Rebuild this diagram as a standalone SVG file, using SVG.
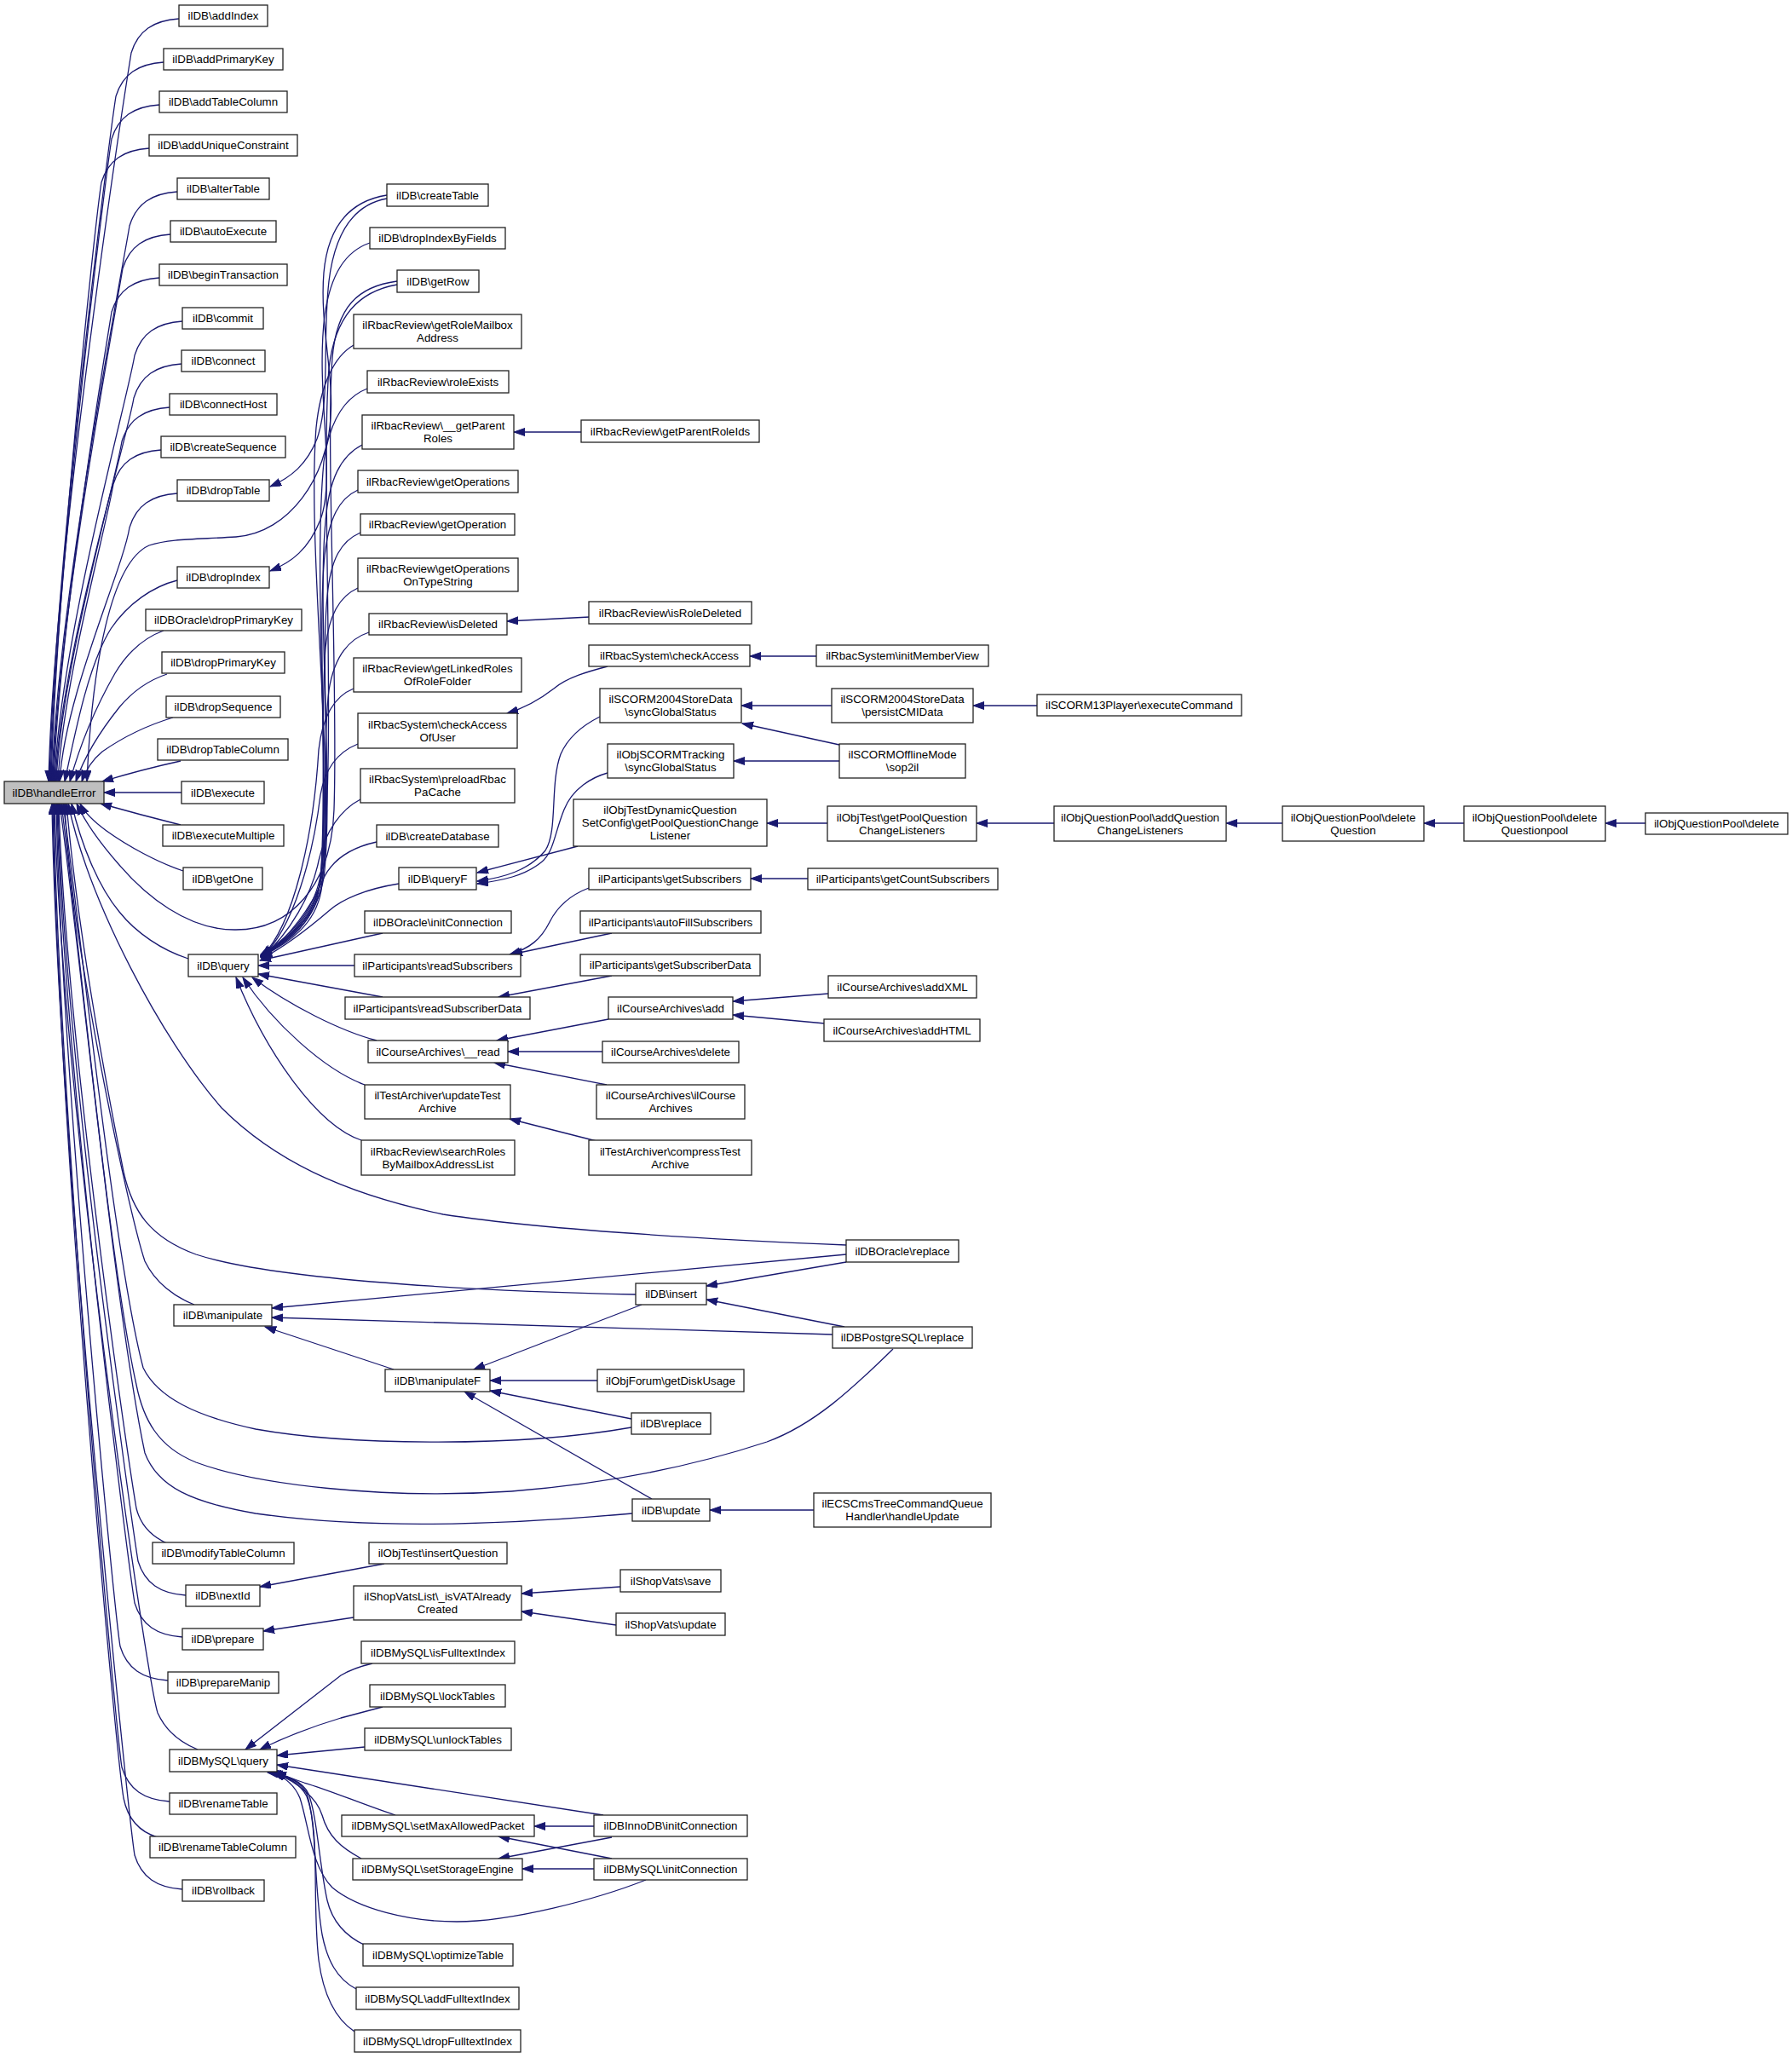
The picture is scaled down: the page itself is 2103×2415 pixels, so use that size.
<svg xmlns="http://www.w3.org/2000/svg" width="2103" height="2415" viewBox="0 0 2103 2415">
<defs>
<style>
.n rect{fill:#fff;stroke:#222;stroke-width:1.3}
.n.h rect{fill:#bfbfbf}
.n text{font-family:"Liberation Sans",Arial,Helvetica,sans-serif;font-size:13.33px;text-anchor:middle;fill:#000}
.e path{fill:none;stroke:#191970;stroke-width:1.3;marker-end:url(#ah)}
</style>
<marker id="ah" markerWidth="14" markerHeight="10" refX="13" refY="4.5" orient="auto" markerUnits="userSpaceOnUse"><path d="M0,0 L13,4.5 L0,9 z" fill="#191970" stroke="#191970" stroke-width="1"/></marker>
</defs>
<rect width="2103" height="2415" fill="#fff"/>
<g id="connectors" class="e">
<path d="M210,22 C180,24 162,36 154,62 C146,112 63,648 57,917"/>
<path d="M192,73 C162,75 144,87 136,113 C128,163 64,664 58,917"/>
<path d="M187,123 C157,125 139,137 131,163 C123,213 65,679 59,917"/>
<path d="M175,174 C145,176 127,188 119,214 C111,264 66,694 60,917"/>
<path d="M208,225 C178,227 160,239 152,265 C144,315 67,709 61,917"/>
<path d="M200,275 C170,277 152,289 144,315 C136,365 68,724 62,917"/>
<path d="M187,326 C157,328 139,340 131,366 C123,416 69,740 63,917"/>
<path d="M214,377 C184,379 166,391 158,417 C150,467 70,755 64,917"/>
<path d="M213,427 C183,429 165,441 157,467 C149,517 71,770 65,917"/>
<path d="M199,478 C169,480 151,492 143,518 C135,568 72,785 66,917"/>
<path d="M189,528 C159,530 141,542 133,568 C125,618 74,800 68,917"/>
<path d="M208,579 C178,581 160,593 152,619 C144,669 76,816 70,917"/>
<path d="M208,681 C180,688 150,708 130,738 C105,778 90,850 76,917"/>
<path d="M192,740 C170,748 150,765 135,790 C115,825 95,870 82,917"/>
<path d="M196,791 C175,798 155,812 140,830 C120,855 100,885 89,917"/>
<path d="M203,842 C170,852 140,868 120,882 C108,892 100,905 96,917"/>
<path d="M212,893 C180,900 150,908 120,917"/>
<path d="M213,930 L122,930"/>
<path d="M212,968 C180,960 150,952 118,943"/>
<path d="M215,1022 C185,1012 150,993 125,975 C110,964 100,955 94,943"/>
<path d="M221,1125 C190,1115 160,1095 140,1070 C115,1040 95,990 84,943"/>
<path d="M993,1461 C850,1455 650,1445 520,1425 C400,1400 320,1360 260,1300 C190,1220 105,1060 80,943"/>
<path d="M746,1519 C600,1516 330,1505 230,1472 C175,1452 155,1420 145,1375 C120,1250 90,1080 78,943"/>
<path d="M228,1531 C205,1522 182,1505 170,1480 C150,1420 82,1100 76,943"/>
<path d="M741,1675 C600,1700 400,1695 300,1677 C230,1662 185,1640 168,1605 C135,1480 95,1100 74,943"/>
<path d="M1048,1583 C1000,1630 955,1672 900,1692 C800,1725 700,1742 600,1750 C450,1760 300,1742 230,1716 C185,1698 168,1665 160,1625 C128,1480 92,1100 72,943"/>
<path d="M742,1776 C560,1792 420,1793 300,1776 C225,1763 185,1745 170,1705 C135,1540 92,1100 70,943"/>
<path d="M196,1811 C178,1803 165,1790 160,1770 C148,1700 76,1200 69,943"/>
<path d="M218,1872 C188,1870 170,1858 162,1832 C154,1782 74,1222 68,943"/>
<path d="M214,1921 C184,1919 166,1907 158,1881 C150,1831 73,1236 67,943"/>
<path d="M197,1972 C167,1970 149,1958 141,1932 C133,1882 72,1252 66,943"/>
<path d="M232,2053 C212,2045 195,2032 185,2010 C170,1960 72,1280 64,943"/>
<path d="M199,2114 C169,2112 151,2100 143,2074 C135,2024 69,1294 63,943"/>
<path d="M185,2156 C165,2150 150,2135 145,2110 C135,2050 68,1310 62,943"/>
<path d="M214,2217 C184,2215 166,2203 158,2177 C150,2127 67,1325 61,943"/>
<path d="M454,229 C410,236 385,265 380,320 C375,380 392,440 388,490 C384,560 340,625 277,630 C230,633 200,632 175,640 C130,660 108,780 102,917"/>
<path d="M466,330 C420,336 395,360 390,420 C382,520 397,800 392,950 C389,1040 340,1091 277,1091 C220,1092 170,1050 140,1015 C118,990 100,965 90,943"/>
<path d="M454,233 C415,240 393,272 386,330 C378,400 388,470 372,515 C360,545 342,560 317,571"/>
<path d="M434,285 C405,295 388,322 381,370 C370,460 395,560 376,610 C362,645 342,660 317,670"/>
<path d="M466,334 C420,342 393,372 386,432 C376,560 396,900 377,1022 C370,1070 340,1100 306,1120"/>
<path d="M415,405 C392,418 376,452 371,502 C360,640 393,920 379,1022 C371,1070 341,1101 306,1121"/>
<path d="M431,456 C405,466 387,492 380,542 C367,680 388,930 377,1030 C370,1075 340,1102 306,1121"/>
<path d="M425,522 C400,535 386,562 382,612 C372,720 392,930 380,1030 C372,1075 341,1102 306,1122"/>
<path d="M420,575 C398,585 386,608 381,652 C372,740 386,940 376,1032 C370,1078 340,1103 306,1122"/>
<path d="M423,625 C400,635 388,656 384,700 C376,780 390,950 378,1035 C371,1080 340,1104 306,1122"/>
<path d="M420,690 C398,700 386,722 382,760 C376,830 383,970 375,1040 C369,1082 340,1105 306,1123"/>
<path d="M433,742 C408,750 392,772 386,810 C378,870 385,990 377,1045 C370,1085 340,1106 306,1123"/>
<path d="M415,808 C390,818 378,843 374,880 C368,980 345,1085 307,1123"/>
<path d="M420,873 C395,883 381,903 376,933 C368,1000 345,1090 307,1123"/>
<path d="M423,938 C400,950 382,975 374,1010 C366,1050 340,1095 307,1124"/>
<path d="M442,988 C410,995 390,1010 380,1030 C365,1065 340,1100 307,1124"/>
<path d="M468,1037 C430,1043 402,1055 387,1068 C366,1086 336,1110 307,1125"/>
<path d="M449,1095 L305,1127"/>
<path d="M416,1133 L303,1133"/>
<path d="M449,1170 L303,1143"/>
<path d="M442,1221 C400,1210 340,1180 296,1147"/>
<path d="M428,1273 C380,1255 320,1200 285,1147"/>
<path d="M424,1338 C370,1320 310,1230 277,1147"/>
<path d="M682,507 L603,507"/>
<path d="M692,724 L595,729"/>
<path d="M713,782 C690,788 665,795 650,808 C632,822 612,832 595,837"/>
<path d="M958,770 L880,770"/>
<path d="M704,841 C690,848 668,862 658,885 C645,920 655,975 640,998 C620,1022 590,1030 560,1034"/>
<path d="M713,907 C695,912 672,925 662,950 C650,980 650,1000 635,1012 C615,1028 590,1033 560,1037"/>
<path d="M678,993 L560,1024"/>
<path d="M976,828 L870,828"/>
<path d="M985,874 L871,849"/>
<path d="M985,893 L861,893"/>
<path d="M1217,828 L1142,828"/>
<path d="M971,966 L900,966"/>
<path d="M1237,966 L1146,966"/>
<path d="M1505,966 L1439,966"/>
<path d="M1718,966 L1671,966"/>
<path d="M1931,966 L1884,966"/>
<path d="M691,1042 C670,1050 655,1062 645,1082 C635,1102 622,1113 598,1120"/>
<path d="M718,1095 L600,1120"/>
<path d="M948,1031 L881,1031"/>
<path d="M718,1145 L585,1170"/>
<path d="M714,1196 L583,1221"/>
<path d="M707,1234 L596,1234"/>
<path d="M712,1273 L580,1247"/>
<path d="M972,1166 L860,1175"/>
<path d="M968,1201 L860,1191"/>
<path d="M700,1339 L598,1313"/>
<path d="M993,1472 L319,1535"/>
<path d="M977,1566 L319,1546"/>
<path d="M462,1607 L311,1557"/>
<path d="M753,1531 L556,1607"/>
<path d="M993,1481 L829,1509"/>
<path d="M991,1557 L829,1525"/>
<path d="M701,1620 L575,1620"/>
<path d="M741,1665 L575,1632"/>
<path d="M765,1759 L545,1633"/>
<path d="M955,1772 L833,1772"/>
<path d="M451,1835 L305,1862"/>
<path d="M415,1898 L309,1914"/>
<path d="M728,1862 L612,1870"/>
<path d="M723,1907 L612,1891"/>
<path d="M437,1952 C420,1956 410,1960 400,1966 L288,2053"/>
<path d="M449,2003 C430,2008 415,2012 400,2016 C370,2025 335,2038 305,2053"/>
<path d="M428,2050 L325,2060"/>
<path d="M708,2130 L325,2071"/>
<path d="M464,2130 C425,2117 385,2100 357,2092 C345,2088 335,2084 323,2079"/>
<path d="M424,2181 C400,2168 385,2155 378,2130 C372,2110 350,2092 322,2080"/>
<path d="M758,2206 C700,2229 600,2255 536,2255 C480,2255 420,2240 390,2215 C365,2190 362,2140 352,2110 C345,2093 333,2085 320,2080"/>
<path d="M429,2283 C405,2272 390,2255 384,2230 C375,2190 372,2130 362,2105 C355,2090 338,2084 318,2080"/>
<path d="M418,2334 C395,2322 384,2300 378,2270 C368,2210 372,2140 360,2105 C353,2090 336,2083 316,2080"/>
<path d="M416,2384 C395,2370 380,2345 374,2300 C366,2230 376,2150 360,2108 C352,2092 335,2083 314,2080"/>
<path d="M697,2143 L627,2143"/>
<path d="M718,2181 L585,2155"/>
<path d="M718,2156 L585,2181"/>
<path d="M697,2193 L613,2193"/>
</g>
<g id="n_handleError" class="n h"><rect x="5" y="917" width="117" height="26"/><text x="63.5" y="934.5">ilDB\handleError</text></g>
<g id="n_addIndex" class="n"><rect x="210" y="6" width="104" height="25"/><text x="262" y="23">ilDB\addIndex</text></g>
<g id="n_addPrimaryKey" class="n"><rect x="192" y="57" width="140" height="25"/><text x="262" y="74">ilDB\addPrimaryKey</text></g>
<g id="n_addTableColumn" class="n"><rect x="187" y="107" width="150" height="25"/><text x="262" y="124">ilDB\addTableColumn</text></g>
<g id="n_addUniqueConstraint" class="n"><rect x="175" y="158" width="174" height="25"/><text x="262" y="175">ilDB\addUniqueConstraint</text></g>
<g id="n_alterTable" class="n"><rect x="208" y="209" width="108" height="25"/><text x="262" y="226">ilDB\alterTable</text></g>
<g id="n_autoExecute" class="n"><rect x="200" y="259" width="124" height="25"/><text x="262" y="276">ilDB\autoExecute</text></g>
<g id="n_beginTransaction" class="n"><rect x="187" y="310" width="150" height="25"/><text x="262" y="327">ilDB\beginTransaction</text></g>
<g id="n_commit" class="n"><rect x="214" y="361" width="95" height="25"/><text x="261.5" y="378">ilDB\commit</text></g>
<g id="n_connect" class="n"><rect x="213" y="411" width="98" height="25"/><text x="262" y="428">ilDB\connect</text></g>
<g id="n_connectHost" class="n"><rect x="199" y="462" width="126" height="25"/><text x="262" y="479">ilDB\connectHost</text></g>
<g id="n_createSequence" class="n"><rect x="189" y="512" width="146" height="25"/><text x="262" y="529">ilDB\createSequence</text></g>
<g id="n_dropTable" class="n"><rect x="208" y="563" width="108" height="25"/><text x="262" y="580">ilDB\dropTable</text></g>
<g id="n_dropIndex" class="n"><rect x="208" y="665" width="108" height="25"/><text x="262" y="682">ilDB\dropIndex</text></g>
<g id="n_oraDropPrimaryKey" class="n"><rect x="171" y="715" width="183" height="25"/><text x="262.5" y="732">ilDBOracle\dropPrimaryKey</text></g>
<g id="n_dropPrimaryKey" class="n"><rect x="190" y="765" width="144" height="25"/><text x="262" y="782">ilDB\dropPrimaryKey</text></g>
<g id="n_dropSequence" class="n"><rect x="195" y="817" width="134" height="25"/><text x="262" y="834">ilDB\dropSequence</text></g>
<g id="n_dropTableColumn" class="n"><rect x="185" y="867" width="153" height="25"/><text x="261.5" y="884">ilDB\dropTableColumn</text></g>
<g id="n_execute" class="n"><rect x="213" y="917" width="97" height="26"/><text x="261.5" y="934.5">ilDB\execute</text></g>
<g id="n_executeMultiple" class="n"><rect x="191" y="968" width="142" height="25"/><text x="262" y="985">ilDB\executeMultiple</text></g>
<g id="n_getOne" class="n"><rect x="215" y="1018" width="93" height="26"/><text x="261.5" y="1035.5">ilDB\getOne</text></g>
<g id="n_query" class="n"><rect x="221" y="1120" width="82" height="26"/><text x="262" y="1137.5">ilDB\query</text></g>
<g id="n_manipulate" class="n"><rect x="204" y="1531" width="115" height="25"/><text x="261.5" y="1548">ilDB\manipulate</text></g>
<g id="n_modifyTableColumn" class="n"><rect x="179" y="1810" width="166" height="25"/><text x="262" y="1827">ilDB\modifyTableColumn</text></g>
<g id="n_nextId" class="n"><rect x="218" y="1860" width="87" height="25"/><text x="261.5" y="1877">ilDB\nextId</text></g>
<g id="n_prepare" class="n"><rect x="214" y="1911" width="95" height="25"/><text x="261.5" y="1928">ilDB\prepare</text></g>
<g id="n_prepareManip" class="n"><rect x="197" y="1962" width="130" height="25"/><text x="262" y="1979">ilDB\prepareManip</text></g>
<g id="n_mysqlQuery" class="n"><rect x="199" y="2053" width="126" height="26"/><text x="262" y="2070.5">ilDBMySQL\query</text></g>
<g id="n_renameTable" class="n"><rect x="199" y="2104" width="126" height="25"/><text x="262" y="2121">ilDB\renameTable</text></g>
<g id="n_renameTableColumn" class="n"><rect x="176" y="2155" width="171" height="25"/><text x="261.5" y="2172">ilDB\renameTableColumn</text></g>
<g id="n_rollback" class="n"><rect x="214" y="2206" width="96" height="25"/><text x="262" y="2223">ilDB\rollback</text></g>
<g id="n_createTable" class="n"><rect x="454" y="216" width="119" height="26"/><text x="513.5" y="233.5">ilDB\createTable</text></g>
<g id="n_dropIndexByFields" class="n"><rect x="434" y="267" width="159" height="25"/><text x="513.5" y="284">ilDB\dropIndexByFields</text></g>
<g id="n_getRow" class="n"><rect x="466" y="317" width="96" height="26"/><text x="514" y="334.5">ilDB\getRow</text></g>
<g id="n_getRoleMailboxAddress" class="n"><rect x="415" y="369" width="197" height="40"/><text x="513.5" y="386">ilRbacReview\getRoleMailbox<tspan x="513.5" y="401">Address</tspan></text></g>
<g id="n_roleExists" class="n"><rect x="431" y="435" width="166" height="26"/><text x="514" y="452.5">ilRbacReview\roleExists</text></g>
<g id="n_getParentRoles" class="n"><rect x="425" y="487" width="178" height="40"/><text x="514" y="504">ilRbacReview\__getParent<tspan x="514" y="519">Roles</tspan></text></g>
<g id="n_getOperations" class="n"><rect x="420" y="552" width="188" height="26"/><text x="514" y="569.5">ilRbacReview\getOperations</text></g>
<g id="n_getOperation" class="n"><rect x="423" y="603" width="181" height="25"/><text x="513.5" y="620">ilRbacReview\getOperation</text></g>
<g id="n_getOperationsOnTypeString" class="n"><rect x="420" y="655" width="188" height="39"/><text x="514" y="671.5">ilRbacReview\getOperations<tspan x="514" y="686.5">OnTypeString</tspan></text></g>
<g id="n_isDeleted" class="n"><rect x="433" y="720" width="162" height="25"/><text x="514" y="737">ilRbacReview\isDeleted</text></g>
<g id="n_getLinkedRolesOfRoleFolder" class="n"><rect x="415" y="772" width="197" height="40"/><text x="513.5" y="789">ilRbacReview\getLinkedRoles<tspan x="513.5" y="804">OfRoleFolder</tspan></text></g>
<g id="n_checkAccessOfUser" class="n"><rect x="420" y="837" width="187" height="41"/><text x="513.5" y="854.5">ilRbacSystem\checkAccess<tspan x="513.5" y="869.5">OfUser</tspan></text></g>
<g id="n_preloadRbacPaCache" class="n"><rect x="423" y="902" width="181" height="40"/><text x="513.5" y="919">ilRbacSystem\preloadRbac<tspan x="513.5" y="934">PaCache</tspan></text></g>
<g id="n_createDatabase" class="n"><rect x="442" y="968" width="143" height="26"/><text x="513.5" y="985.5">ilDB\createDatabase</text></g>
<g id="n_queryF" class="n"><rect x="468" y="1018" width="91" height="26"/><text x="513.5" y="1035.5">ilDB\queryF</text></g>
<g id="n_oraInitConnection" class="n"><rect x="428" y="1069" width="172" height="26"/><text x="514" y="1086.5">ilDBOracle\initConnection</text></g>
<g id="n_readSubscribers" class="n"><rect x="416" y="1120" width="195" height="26"/><text x="513.5" y="1137.5">ilParticipants\readSubscribers</text></g>
<g id="n_readSubscriberData" class="n"><rect x="405" y="1170" width="217" height="26"/><text x="513.5" y="1187.5">ilParticipants\readSubscriberData</text></g>
<g id="n_caRead" class="n"><rect x="432" y="1221" width="164" height="26"/><text x="514" y="1238.5">ilCourseArchives\__read</text></g>
<g id="n_updateTestArchive" class="n"><rect x="428" y="1273" width="171" height="40"/><text x="513.5" y="1290">ilTestArchiver\updateTest<tspan x="513.5" y="1305">Archive</tspan></text></g>
<g id="n_searchRoles" class="n"><rect x="424" y="1338" width="180" height="41"/><text x="514" y="1355.5">ilRbacReview\searchRoles<tspan x="514" y="1370.5">ByMailboxAddressList</tspan></text></g>
<g id="n_manipulateF" class="n"><rect x="452" y="1607" width="123" height="26"/><text x="513.5" y="1624.5">ilDB\manipulateF</text></g>
<g id="n_insertQuestion" class="n"><rect x="433" y="1810" width="162" height="25"/><text x="514" y="1827">ilObjTest\insertQuestion</text></g>
<g id="n_isVATAlreadyCreated" class="n"><rect x="415" y="1861" width="197" height="40"/><text x="513.5" y="1878">ilShopVatsList\_isVATAlready<tspan x="513.5" y="1893">Created</tspan></text></g>
<g id="n_isFulltextIndex" class="n"><rect x="424" y="1926" width="180" height="26"/><text x="514" y="1943.5">ilDBMySQL\isFulltextIndex</text></g>
<g id="n_lockTables" class="n"><rect x="434" y="1977" width="159" height="26"/><text x="513.5" y="1994.5">ilDBMySQL\lockTables</text></g>
<g id="n_unlockTables" class="n"><rect x="428" y="2028" width="172" height="26"/><text x="514" y="2045.5">ilDBMySQL\unlockTables</text></g>
<g id="n_setMaxAllowedPacket" class="n"><rect x="401" y="2130" width="226" height="25"/><text x="514" y="2147">ilDBMySQL\setMaxAllowedPacket</text></g>
<g id="n_setStorageEngine" class="n"><rect x="414" y="2181" width="199" height="25"/><text x="513.5" y="2198">ilDBMySQL\setStorageEngine</text></g>
<g id="n_optimizeTable" class="n"><rect x="426" y="2281" width="176" height="26"/><text x="514" y="2298.5">ilDBMySQL\optimizeTable</text></g>
<g id="n_addFulltextIndex" class="n"><rect x="418" y="2332" width="191" height="26"/><text x="513.5" y="2349.5">ilDBMySQL\addFulltextIndex</text></g>
<g id="n_dropFulltextIndex" class="n"><rect x="416" y="2382" width="195" height="26"/><text x="513.5" y="2399.5">ilDBMySQL\dropFulltextIndex</text></g>
<g id="n_getParentRoleIds" class="n"><rect x="682" y="493" width="209" height="26"/><text x="786.5" y="510.5">ilRbacReview\getParentRoleIds</text></g>
<g id="n_isRoleDeleted" class="n"><rect x="691" y="706" width="191" height="26"/><text x="786.5" y="723.5">ilRbacReview\isRoleDeleted</text></g>
<g id="n_checkAccess" class="n"><rect x="691" y="757" width="189" height="25"/><text x="785.5" y="774">ilRbacSystem\checkAccess</text></g>
<g id="n_scormSyncGlobalStatus" class="n"><rect x="704" y="808" width="166" height="40"/><text x="787" y="825">ilSCORM2004StoreData<tspan x="787" y="840">\syncGlobalStatus</tspan></text></g>
<g id="n_trackingSyncGlobalStatus" class="n"><rect x="713" y="873" width="148" height="40"/><text x="787" y="890">ilObjSCORMTracking<tspan x="787" y="905">\syncGlobalStatus</tspan></text></g>
<g id="n_dynQuestionListener" class="n"><rect x="673" y="938" width="227" height="55"/><text x="786.5" y="955">ilObjTestDynamicQuestion<tspan x="786.5" y="970">SetConfig\getPoolQuestionChange</tspan><tspan x="786.5" y="985">Listener</tspan></text></g>
<g id="n_getSubscribers" class="n"><rect x="691" y="1019" width="190" height="25"/><text x="786" y="1036">ilParticipants\getSubscribers</text></g>
<g id="n_autoFillSubscribers" class="n"><rect x="681" y="1069" width="212" height="26"/><text x="787" y="1086.5">ilParticipants\autoFillSubscribers</text></g>
<g id="n_getSubscriberData" class="n"><rect x="681" y="1120" width="211" height="25"/><text x="786.5" y="1137">ilParticipants\getSubscriberData</text></g>
<g id="n_caAdd" class="n"><rect x="714" y="1170" width="146" height="26"/><text x="787" y="1187.5">ilCourseArchives\add</text></g>
<g id="n_caDelete" class="n"><rect x="707" y="1222" width="160" height="25"/><text x="787" y="1239">ilCourseArchives\delete</text></g>
<g id="n_caConstruct" class="n"><rect x="700" y="1273" width="174" height="40"/><text x="787" y="1290">ilCourseArchives\ilCourse<tspan x="787" y="1305">Archives</tspan></text></g>
<g id="n_compressTestArchive" class="n"><rect x="691" y="1338" width="191" height="41"/><text x="786.5" y="1355.5">ilTestArchiver\compressTest<tspan x="786.5" y="1370.5">Archive</tspan></text></g>
<g id="n_insert" class="n"><rect x="746" y="1506" width="83" height="25"/><text x="787.5" y="1523">ilDB\insert</text></g>
<g id="n_getDiskUsage" class="n"><rect x="701" y="1607" width="172" height="26"/><text x="787" y="1624.5">ilObjForum\getDiskUsage</text></g>
<g id="n_replace" class="n"><rect x="741" y="1658" width="93" height="25"/><text x="787.5" y="1675">ilDB\replace</text></g>
<g id="n_update" class="n"><rect x="742" y="1759" width="91" height="26"/><text x="787.5" y="1776.5">ilDB\update</text></g>
<g id="n_vatsSave" class="n"><rect x="728" y="1842" width="118" height="26"/><text x="787" y="1859.5">ilShopVats\save</text></g>
<g id="n_vatsUpdate" class="n"><rect x="723" y="1893" width="128" height="26"/><text x="787" y="1910.5">ilShopVats\update</text></g>
<g id="n_innoInit" class="n"><rect x="697" y="2130" width="180" height="25"/><text x="787" y="2147">ilDBInnoDB\initConnection</text></g>
<g id="n_mysqlInit" class="n"><rect x="697" y="2181" width="180" height="25"/><text x="787" y="2198">ilDBMySQL\initConnection</text></g>
<g id="n_initMemberView" class="n"><rect x="958" y="757" width="202" height="25"/><text x="1059" y="774">ilRbacSystem\initMemberView</text></g>
<g id="n_persistCMIData" class="n"><rect x="976" y="808" width="166" height="40"/><text x="1059" y="825">ilSCORM2004StoreData<tspan x="1059" y="840">\persistCMIData</tspan></text></g>
<g id="n_sop2il" class="n"><rect x="985" y="873" width="148" height="40"/><text x="1059" y="890">ilSCORMOfflineMode<tspan x="1059" y="905">\sop2il</tspan></text></g>
<g id="n_getPoolQCL" class="n"><rect x="971" y="946" width="175" height="41"/><text x="1058.5" y="963.5">ilObjTest\getPoolQuestion<tspan x="1058.5" y="978.5">ChangeListeners</tspan></text></g>
<g id="n_getCountSubscribers" class="n"><rect x="948" y="1019" width="223" height="25"/><text x="1059.5" y="1036">ilParticipants\getCountSubscribers</text></g>
<g id="n_addXML" class="n"><rect x="972" y="1145" width="174" height="26"/><text x="1059" y="1162.5">ilCourseArchives\addXML</text></g>
<g id="n_addHTML" class="n"><rect x="967" y="1196" width="183" height="26"/><text x="1058.5" y="1213.5">ilCourseArchives\addHTML</text></g>
<g id="n_oraReplace" class="n"><rect x="993" y="1455" width="132" height="26"/><text x="1059" y="1472.5">ilDBOracle\replace</text></g>
<g id="n_pgReplace" class="n"><rect x="977" y="1557" width="164" height="25"/><text x="1059" y="1574">ilDBPostgreSQL\replace</text></g>
<g id="n_ecsHandleUpdate" class="n"><rect x="955" y="1752" width="208" height="40"/><text x="1059" y="1769">ilECSCmsTreeCommandQueue<tspan x="1059" y="1784">Handler\handleUpdate</tspan></text></g>
<g id="n_executeCommand" class="n"><rect x="1217" y="815" width="240" height="25"/><text x="1337" y="832">ilSCORM13Player\executeCommand</text></g>
<g id="n_addQCL" class="n"><rect x="1237" y="946" width="202" height="41"/><text x="1338" y="963.5">ilObjQuestionPool\addQuestion<tspan x="1338" y="978.5">ChangeListeners</tspan></text></g>
<g id="n_deleteQuestion" class="n"><rect x="1505" y="946" width="166" height="41"/><text x="1588" y="963.5">ilObjQuestionPool\delete<tspan x="1588" y="978.5">Question</tspan></text></g>
<g id="n_deleteQuestionpool" class="n"><rect x="1718" y="946" width="166" height="41"/><text x="1801" y="963.5">ilObjQuestionPool\delete<tspan x="1801" y="978.5">Questionpool</tspan></text></g>
<g id="n_qpDelete" class="n"><rect x="1931" y="954" width="167" height="25"/><text x="2014.5" y="971">ilObjQuestionPool\delete</text></g>
</svg>
